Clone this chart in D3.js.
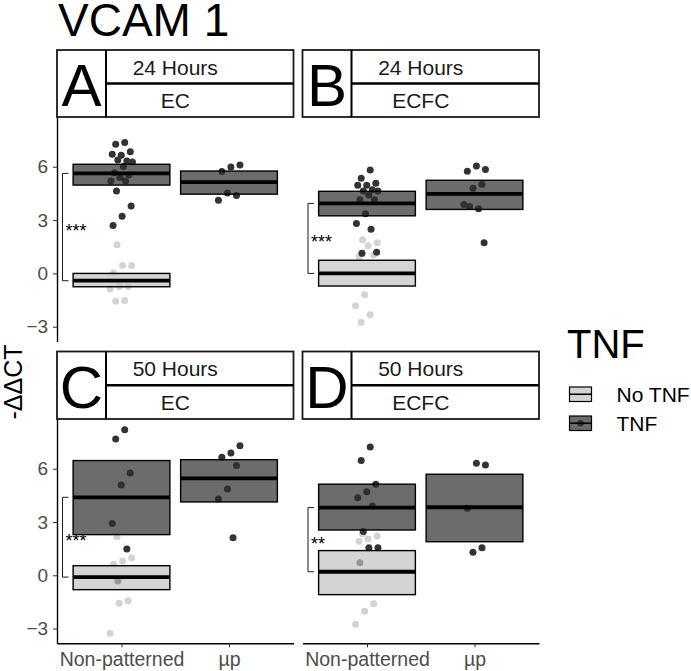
<!DOCTYPE html>
<html>
<head>
<meta charset="utf-8">
<script src="https://cdn.jsdelivr.net/npm/d3@7/dist/d3.min.js"></script>
<style>
  body { margin: 0; background: #fff; }
  svg { display: block; font-family: "Liberation Sans", Arial, sans-serif; }
</style>
</head>
<body>
<svg id="chart" width="691" height="671"></svg>
<script>
// ---------------- DATA ----------------
const chartTitle = "VCAM 1";
const panelLetters = ["A", "B", "C", "D"];
const panelTimes = ["24 Hours", "24 Hours", "50 Hours", "50 Hours"];
const panelCells = ["EC", "ECFC", "EC", "ECFC"];
const categories = ["Non-patterned", "µp"];
const groups = ["No TNF", "TNF"];
const yTicks = [-3, 0, 3, 6];
const yDomain = [-3.83, 8.8];
const sigLabels = ["***", "***", "***", "**"];

// individual points (-ΔΔCT) per panel: Non-patterned No TNF, Non-patterned TNF, µp TNF
const A_npNo  = [1.62, 0.45, 0.45, 0.02, -0.73, -0.73, -0.86, -1.52, -1.56];
const A_npTnf = [7.37, 7.27, 6.84, 6.65, 6.71, 6.33, 6.38, 6.27, 6.01, 5.67, 5.54, 5.39, 5.2, 5.2, 4.63, 3.79, 3.22, 2.69];
const A_upTnf = [6.1, 5.99, 5.73, 4.39, 4.52, 4.11];

const B_npNo  = [1.89, 1.73, 1.55, 0.94, 1.04, -1.2, -1.82, -2.33, -2.75];
const B_npTnf = [5.82, 5.35, 5.07, 4.96, 4.96, 4.71, 4.63, 4.63, 4.41, 4.15, 4.15, 3.36, 2.81, 2.49, 1.13, 1.19];
const B_upTnf = [5.84, 6.05, 5.75, 5.01, 4.79, 3.88, 3.64, 3.77, 1.72];

const C_npNo  = [2.17, 0.99, 0.81, 0.62, -1.43, -1.58, -3.27];
const C_npTnf = [8.19, 7.68, 5.76, 5.09, 2.91, 1.48, -0.32];
const C_upTnf = [7.3, 6.89, 6.65, 6.18, 4.86, 4.3, 2.12];

const D_npNo  = [2.33, 2.21, 2.05, 1.92, -1.6, -2.03, -2.76];
const D_npTnf = [7.23, 6.46, 5.13, 4.71, 4.37, 3.9, 2.46, 1.55, 1.55, 0.71];
const D_upTnf = [6.21, 6.31, 3.78, 1.55, 1.3];

// crossbar summaries per panel: [NP No TNF, NP TNF, µp TNF]
const boxMid = [[-0.41, 5.63, 5.14], [0.0, 3.94, 4.48], [-0.1, 4.39, 5.46], [0.2, 3.81, 3.83]];
const boxLo  = [[-0.75, 4.97, 4.46], [-0.71, 3.24, 3.6], [-0.81, 2.29, 4.13], [-1.09, 2.55, 1.89]];
const boxHi  = [[0.0, 6.14, 5.76], [0.74, 4.62, 5.24], [0.54, 6.46, 6.51], [1.39, 5.13, 5.69]];

const panelPoints = [
  [A_npNo, A_npTnf, A_upTnf],
  [B_npNo, B_npTnf, B_upTnf],
  [C_npNo, C_npTnf, C_upTnf],
  [D_npNo, D_npTnf, D_upTnf]
];
const seriesCat = [categories[0], categories[0], categories[1]];
const seriesGroup = [groups[0], groups[1], groups[1]];

// ---------------- LAYOUT / STYLE ----------------
const svg = d3.select("#chart");
const FONT = '"Liberation Sans", Arial, sans-serif';
const cols = [[57, 293.5], [302.5, 539]];
const rows = [{ stripTop: 50, top: 117, bottom: 341.5 }, { stripTop: 351.5, top: 419, bottom: 643.3 }];
const letterW = 49;

const pointColor = d3.scaleOrdinal().domain(groups).range(["#d3d3d3", "#333333"]);
const boxFill = d3.scaleOrdinal().domain(groups).range(["#c2c2c2", "#2e2e2e"]);
const boxAlpha = 0.7;

// title
svg.append("text").attr("x", 58).attr("y", 36)
  .attr("font-size", 46).attr("fill", "#000").text(chartTitle);

// y axis title
svg.append("text")
  .attr("transform", "translate(22,382) rotate(-90)")
  .attr("text-anchor", "middle").attr("font-size", 25).attr("fill", "#000")
  .text("-ΔΔCT");

function jitter(i) {
  const f = (i * 0.6180339887 + 0.31) % 1;
  return (f - 0.5) * 0.22;
}

panelLetters.forEach((letter, p) => {
  const c = p % 2, r = Math.floor(p / 2);
  const [x0, x1] = cols[c];
  const row = rows[r];
  const x = d3.scalePoint().domain(categories).range([x0, x1]).padding(0.6);
  const step = x.step();
  const y = d3.scaleLinear().domain(yDomain).range([row.bottom, row.top]);
  const g = svg.append("g");

  // strip
  const st = row.stripTop, sb = row.top;
  const strip = g.append("g");
  strip.append("rect").attr("x", x0).attr("y", st).attr("width", x1 - x0).attr("height", sb - st)
    .attr("fill", "#fff").attr("stroke", "#1a1a1a").attr("stroke-width", 1.8);
  strip.append("line").attr("x1", x0 + letterW).attr("x2", x0 + letterW).attr("y1", st).attr("y2", sb)
    .attr("stroke", "#000").attr("stroke-width", 2);
  const midY = (st + sb) / 2;
  strip.append("line").attr("x1", x0 + letterW).attr("x2", x1).attr("y1", midY).attr("y2", midY)
    .attr("stroke", "#000").attr("stroke-width", 2.4);
  strip.append("text").attr("x", x0 + letterW / 2).attr("y", sb - 11)
    .attr("text-anchor", "middle").attr("font-size", 60).attr("fill", "#000").text(letter);
  const textCx = (x0 + letterW + x1) / 2 - 24.5;
  strip.append("text").attr("x", textCx).attr("y", midY - 9)
    .attr("text-anchor", "middle").attr("font-size", 21).attr("fill", "#1a1a1a").text(panelTimes[p]);
  strip.append("text").attr("x", textCx).attr("y", sb - 9)
    .attr("text-anchor", "middle").attr("font-size", 21).attr("fill", "#1a1a1a").text(panelCells[p]);

  // points (drawn beneath the semi-transparent crossbars)
  panelPoints[p].forEach((vals, s) => {
    g.append("g").selectAll("circle").data(vals).join("circle")
      .attr("cx", (d, i) => x(seriesCat[s]) + jitter(i + s * 7) * step)
      .attr("cy", d => y(d))
      .attr("r", 3.5)
      .attr("fill", pointColor(seriesGroup[s]));
  });

  // crossbars
  [0, 1, 2].forEach(s => {
    const cx = x(seriesCat[s]);
    const bw = step * 0.9;
    g.append("rect")
      .attr("x", cx - bw / 2).attr("width", bw)
      .attr("y", y(boxHi[p][s])).attr("height", y(boxLo[p][s]) - y(boxHi[p][s]))
      .attr("fill", boxFill(seriesGroup[s])).attr("fill-opacity", boxAlpha)
      .attr("stroke", "#000").attr("stroke-width", 1.4);
    g.append("line")
      .attr("x1", cx - bw / 2).attr("x2", cx + bw / 2)
      .attr("y1", y(boxMid[p][s])).attr("y2", y(boxMid[p][s]))
      .attr("stroke", "#000").attr("stroke-width", 3.8);
  });

  // significance bracket between NP means
  const bx = x0 + 5.5;
  const yA = y(boxMid[p][1]), yB = y(boxMid[p][0]);
  g.append("path")
    .attr("d", `M${bx + 6},${yA}H${bx}V${yB}H${bx + 6}`)
    .attr("fill", "none").attr("stroke", "#000").attr("stroke-width", 0.9);
  g.append("text").attr("x", bx + 3).attr("y", (yA + yB) / 2 + 10)
    .attr("font-size", 18).attr("fill", "#000").text(sigLabels[p]);

  // axes
  if (c === 0) {
    const ax = g.append("g").attr("transform", `translate(${x0},0)`)
      .call(d3.axisLeft(y).tickValues(yTicks).tickSize(4).tickSizeOuter(0).tickFormat(d3.format("d")));
    ax.select(".domain").attr("stroke", "#000").attr("stroke-width", 1.4);
    ax.selectAll(".tick line").attr("stroke", "#333").attr("stroke-width", 1);
    ax.selectAll(".tick text").attr("font-size", 19).attr("fill", "#4d4d4d").attr("font-family", FONT).attr("dx", "-0.1em");
  }
  if (r === 1) {
    const ax = g.append("g").attr("transform", `translate(0,${row.bottom})`)
      .call(d3.axisBottom(x).tickSize(4).tickSizeOuter(0));
    ax.select(".domain").attr("stroke", "#000").attr("stroke-width", 1.4);
    ax.selectAll(".tick line").attr("stroke", "#333").attr("stroke-width", 1);
    ax.selectAll(".tick text").attr("font-size", 19.5).attr("fill", "#4d4d4d").attr("font-family", FONT).attr("dy", "0.8em");
  }
});

// legend
const lg = svg.append("g");
lg.append("text").attr("x", 567).attr("y", 358).attr("font-size", 40).attr("fill", "#000").text("TNF");
groups.forEach((grp, i) => {
  const ky = 387 + i * 29;
  const kx = 569.5, kw = 22, kh = 14.5;
  if (grp === "TNF") {
    lg.append("circle").attr("cx", kx + kw / 2).attr("cy", ky + kh / 2).attr("r", 3.3).attr("fill", pointColor(grp));
  }
  lg.append("rect").attr("x", kx).attr("y", ky).attr("width", kw).attr("height", kh)
    .attr("fill", boxFill(grp)).attr("fill-opacity", boxAlpha).attr("stroke", "#000").attr("stroke-width", 1.2);
  lg.append("line").attr("x1", kx).attr("x2", kx + kw).attr("y1", ky + kh / 2).attr("y2", ky + kh / 2)
    .attr("stroke", "#000").attr("stroke-width", 1.6);
  lg.append("text").attr("x", 616.5).attr("y", ky + kh / 2 + 7.5).attr("font-size", 21).attr("fill", "#000").text(grp);
});
</script>
</body>
</html>
